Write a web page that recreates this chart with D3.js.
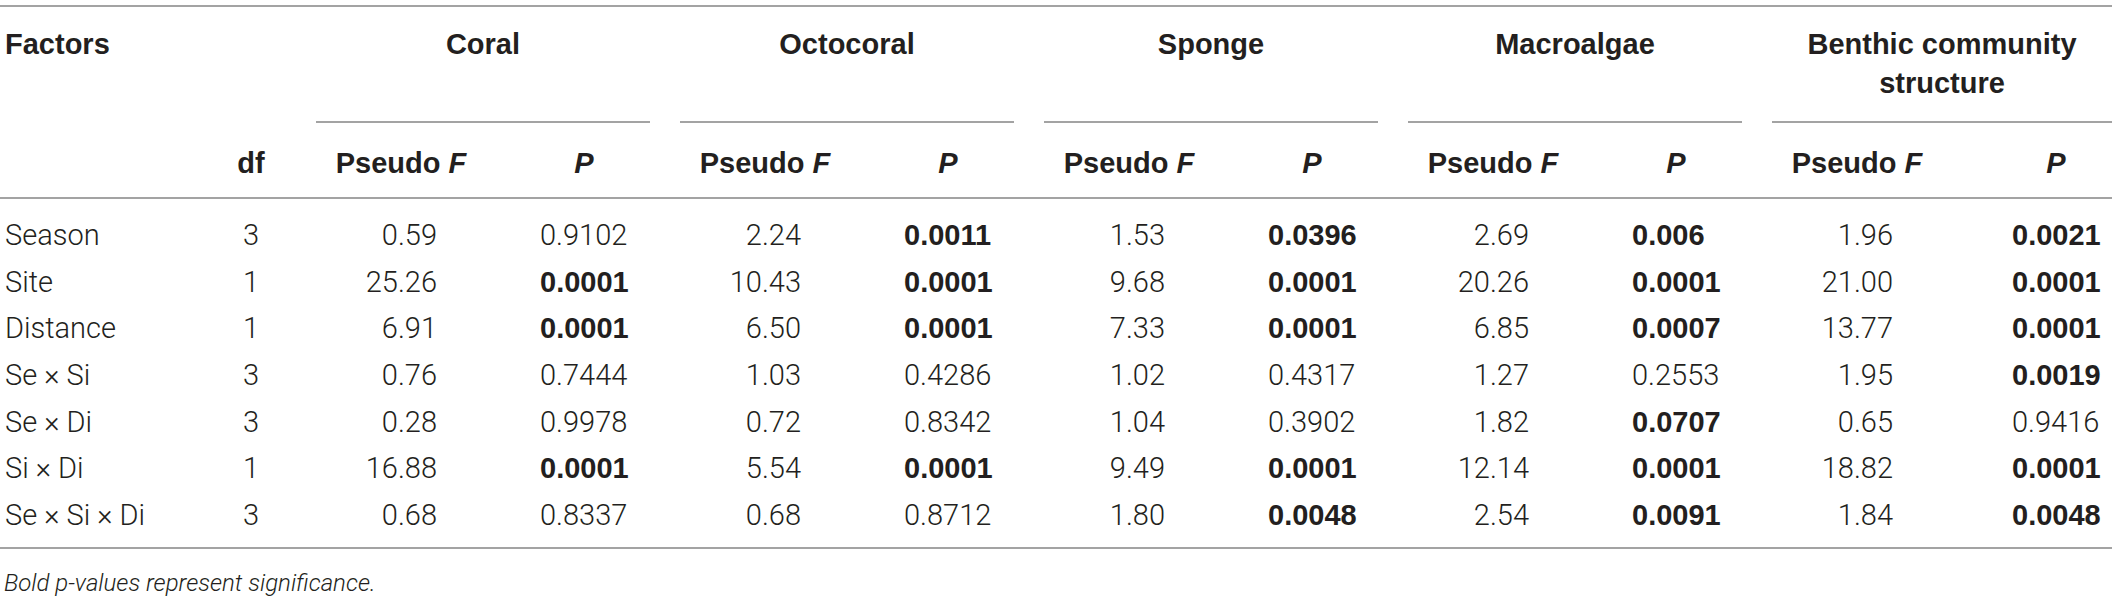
<!DOCTYPE html>
<html>
<head>
<meta charset="utf-8">
<script src="https://cdn.jsdelivr.net/npm/d3@7"></script>
<style>
  html, body { margin: 0; padding: 0; background: #fff; }
  svg { display: block; }
</style>
</head>
<body>
<svg id="chart"></svg>
<script>
// table content
const factors = ['Season', 'Site', 'Distance', 'Se \u00d7 Si', 'Se \u00d7 Di', 'Si \u00d7 Di', 'Se \u00d7 Si \u00d7 Di']
const df = [3, 1, 1, 3, 3, 1, 3]
const groups = ['Coral', 'Octocoral', 'Sponge', 'Macroalgae', 'Benthic community structure']

const coralF = [0.59, 25.26, 6.91, 0.76, 0.28, 16.88, 0.68]
const coralP = [0.9102, 0.0001, 0.0001, 0.7444, 0.9978, 0.0001, 0.8337]
const coralBold = [false, true, true, false, false, true, false]

const octocoralF = [2.24, 10.43, 6.50, 1.03, 0.72, 5.54, 0.68]
const octocoralP = [0.0011, 0.0001, 0.0001, 0.4286, 0.8342, 0.0001, 0.8712]
const octocoralBold = [true, true, true, false, false, true, false]

const spongeF = [1.53, 9.68, 7.33, 1.02, 1.04, 9.49, 1.80]
const spongeP = [0.0396, 0.0001, 0.0001, 0.4317, 0.3902, 0.0001, 0.0048]
const spongeBold = [true, true, true, false, false, true, true]

const macroalgaeF = [2.69, 20.26, 6.85, 1.27, 1.82, 12.14, 2.54]
const macroalgaeP = [0.006, 0.0001, 0.0007, 0.2553, 0.0707, 0.0001, 0.0091]
const macroalgaeBold = [true, true, true, false, true, true, true]

const benthicF = [1.96, 21.00, 13.77, 1.95, 0.65, 18.82, 1.84]
const benthicP = [0.0021, 0.0001, 0.0001, 0.0019, 0.9416, 0.0001, 0.0048]
const benthicBold = [true, true, true, true, false, true, true]

const footnote = 'Bold p-values represent significance.'

const seriesF = [coralF, octocoralF, spongeF, macroalgaeF, benthicF]
const seriesP = [coralP, octocoralP, spongeP, macroalgaeP, benthicP]
const seriesBold = [coralBold, octocoralBold, spongeBold, macroalgaeBold, benthicBold]

const width = 2118
const height = 601
const tableRight = 2112
const ink = '#231f20'
const rule = '#a3a3a3'
const bodyFont = 'Roboto, "Liberation Sans", Arial, sans-serif'
const headFont = '"Liberation Sans", Arial, sans-serif'

const svg = d3.select('#chart').attr('width', width).attr('height', height)

svg.append('rect').attr('width', width).attr('height', height).attr('fill', '#fff')

// scales
const y = d3.scalePoint().domain(factors).range([245, 525])
const gx = d3.scaleBand().domain(groups).range([316, 2106]).paddingInner(30 / 364)
const sub = d3.scalePoint().domain(['F', 'P']).range([85, 268])
const fmtF = d3.format('.2f')
const lastGroup = groups[groups.length - 1]
const pShift = (g) => (g === lastGroup ? 16 : 0)
const groupEnd = (g) => (g === lastGroup ? tableRight : gx(g) + gx.bandwidth())

// horizontal rules
const rules = svg.append('g').attr('stroke', rule).attr('stroke-width', 2)
;[6, 198, 548].forEach((yy) => {
  rules.append('line').attr('x1', 0).attr('x2', tableRight).attr('y1', yy).attr('y2', yy)
})
rules
  .selectAll('line.group')
  .data(groups)
  .join('line')
  .attr('class', 'group')
  .attr('x1', (d) => gx(d))
  .attr('x2', (d) => groupEnd(d))
  .attr('y1', 122)
  .attr('y2', 122)

// header
const head = svg
  .append('g')
  .attr('font-family', headFont)
  .attr('font-weight', 'bold')
  .attr('font-size', 29)
  .attr('fill', ink)

head.append('text').attr('x', 5).attr('y', 54).text('Factors')
head.append('text').attr('x', 251).attr('y', 173).attr('text-anchor', 'middle').text('df')

head
  .selectAll('text.group')
  .data(groups)
  .join('text')
  .attr('class', 'group')
  .attr('text-anchor', 'middle')
  .attr('x', (d) => (gx(d) + groupEnd(d)) / 2)
  .attr('y', 54)
  .each(function (d) {
    const t = d3.select(this)
    if (d === lastGroup) {
      const cx = (gx(d) + groupEnd(d)) / 2
      t.append('tspan').attr('x', cx).attr('dy', 0).text('Benthic community')
      t.append('tspan').attr('x', cx).attr('dy', 39).text('structure')
    } else {
      t.text(d)
    }
  })

groups.forEach((g) => {
  const pf = head
    .append('text')
    .attr('text-anchor', 'middle')
    .attr('x', gx(g) + sub('F'))
    .attr('y', 173)
  pf.append('tspan').text('Pseudo ')
  pf.append('tspan').attr('font-style', 'italic').text('F')

  head
    .append('text')
    .attr('text-anchor', 'middle')
    .attr('font-style', 'italic')
    .attr('x', gx(g) + sub('P') + pShift(g))
    .attr('y', 173)
    .text('P')
})

// body
const body = svg
  .append('g')
  .attr('font-family', bodyFont)
  .attr('font-weight', 300)
  .attr('font-size', 29)
  .attr('fill', ink)

body
  .selectAll('text.factor')
  .data(factors)
  .join('text')
  .attr('class', 'factor')
  .attr('x', 5)
  .attr('y', (d) => y(d))
  .text((d) => d)

body
  .selectAll('text.df')
  .data(df)
  .join('text')
  .attr('class', 'df')
  .attr('text-anchor', 'middle')
  .attr('x', 251)
  .attr('y', (d, i) => y(factors[i]))
  .text((d) => d)

groups.forEach((g, gi) => {
  const col = body.append('g')

  col
    .selectAll('text.f')
    .data(seriesF[gi])
    .join('text')
    .attr('class', 'f')
    .attr('text-anchor', 'end')
    .attr('x', gx(g) + sub('F') + 36)
    .attr('y', (d, i) => y(factors[i]))
    .text((d) => fmtF(d))

  col
    .selectAll('text.p')
    .data(seriesP[gi])
    .join('text')
    .attr('class', 'p')
    .attr('x', gx(g) + sub('P') + pShift(g) - 44)
    .attr('y', (d, i) => y(factors[i]))
    .attr('font-family', (d, i) => (seriesBold[gi][i] ? headFont : null))
    .attr('font-weight', (d, i) => (seriesBold[gi][i] ? 'bold' : null))
    .text((d) => String(d))
})

// footnote
svg
  .append('text')
  .attr('x', 4)
  .attr('y', 591)
  .attr('font-family', bodyFont)
  .attr('font-weight', 300)
  .attr('font-style', 'italic')
  .attr('font-size', 24)
  .attr('fill', ink)
  .text(footnote)
</script>
</body>
</html>
